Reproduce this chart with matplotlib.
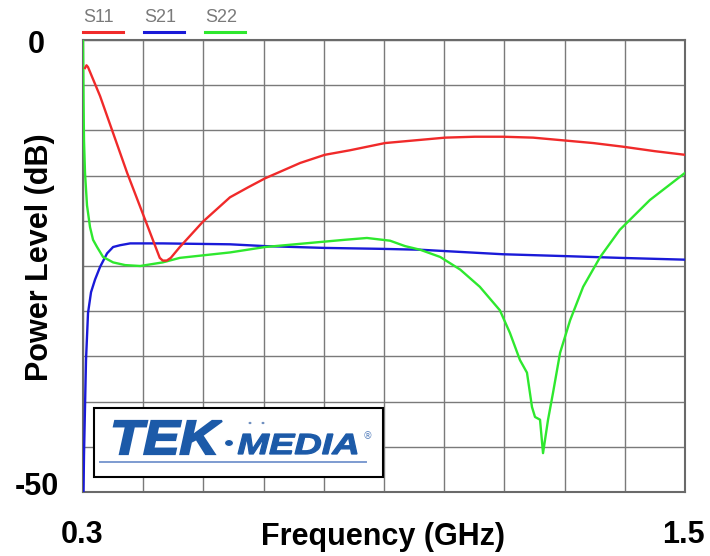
import matplotlib
matplotlib.use('Agg')
import matplotlib.pyplot as plt
from matplotlib.patches import Rectangle, Circle, PathPatch
from matplotlib.lines import Line2D
from matplotlib.textpath import TextPath
from matplotlib.font_manager import FontProperties
from matplotlib.transforms import Affine2D, IdentityTransform

# frequency sweep 0.3 - 1.5 GHz, levels in dB
s11_f = [0.304, 0.307, 0.310, 0.334, 0.388, 0.453, 0.459, 0.467, 0.475, 0.493, 0.539,
         0.563, 0.593, 0.629, 0.663, 0.733, 0.782, 0.832, 0.902, 0.962, 1.022, 1.081,
         1.137, 1.197, 1.257, 1.317, 1.376, 1.440, 1.500]
s11_db = [-3.1, -2.8, -3.0, -6.2, -14.7, -24.1, -24.4, -24.4, -24.1, -22.9, -20.1,
          -18.9, -17.4, -16.3, -15.3, -13.6, -12.7, -12.2, -11.4, -11.1, -10.8, -10.7,
          -10.7, -10.8, -11.1, -11.4, -11.8, -12.3, -12.7]

s21_f = [0.301, 0.302, 0.304, 0.306, 0.310, 0.316, 0.324, 0.334, 0.348, 0.360, 0.374,
         0.394, 0.459, 0.593, 0.663, 0.782, 0.892, 0.972, 1.137, 1.257, 1.370, 1.500]
s21_db = [-50.0, -45.9, -40.6, -35.4, -30.2, -27.9, -26.5, -25.1, -23.6, -22.9, -22.7,
          -22.5, -22.5, -22.6, -22.8, -23.0, -23.1, -23.2, -23.7, -23.9, -24.1, -24.3]

s22_f = [0.300, 0.301, 0.302, 0.304, 0.308, 0.314, 0.320, 0.328, 0.340, 0.360, 0.384,
         0.414, 0.459, 0.493, 0.593, 0.663, 0.782, 0.822, 0.866, 0.912, 0.942, 0.972,
         1.012, 1.052, 1.091, 1.131, 1.151, 1.171, 1.185, 1.195, 1.201, 1.211, 1.217,
         1.227, 1.237, 1.251, 1.271, 1.297, 1.331, 1.370, 1.430, 1.500]
s22_db = [0.0, -6.6, -11.1, -14.7, -18.3, -20.7, -22.1, -22.9, -24.0, -24.6, -24.9,
          -25.0, -24.6, -24.1, -23.5, -22.9, -22.3, -22.1, -21.9, -22.2, -22.8, -23.2,
          -24.0, -25.4, -27.3, -29.9, -32.4, -35.4, -36.8, -40.6, -41.7, -42.0, -45.7,
          -42.0, -39.0, -34.6, -31.0, -27.3, -24.0, -21.0, -17.7, -14.7]

trace_names = ['S11', 'S21', 'S22']
trace_colors = ['#f02a2a', '#1a1ad8', '#2ee82e']

W, H = 710, 556
fig = plt.figure(figsize=(W / 100, H / 100), dpi=100)
ax = fig.add_axes([83 / W, 1 - 492 / H, 602 / W, 452 / H])


def px(x, y):
    return x / W, 1 - y / H


ax.plot(s21_f, s21_db, color=trace_colors[1], lw=1.7, zorder=3)
ax.plot(s22_f, s22_db, color=trace_colors[2], lw=1.7, zorder=4)
ax.plot(s11_f, s11_db, color=trace_colors[0], lw=1.7, zorder=5)

ax.set_xlim(0.3, 1.5)
ax.set_ylim(-50, 0)
ax.set_xticks([0.3 + 0.12 * i for i in range(11)])
ax.set_yticks([-5 * i for i in range(11)])
ax.tick_params(length=0, labelbottom=False, labelleft=False)
ax.grid(True, color='#7a7a7a', lw=1.0)
ax.set_axisbelow(True)
for sp in ax.spines.values():
    sp.set_color('#6a6a6a')
    sp.set_linewidth(1.5)

lab = dict(fontfamily='Liberation Sans', fontweight='bold', fontsize=22, color='black')
fig.text(*px(36, 45), '0', ha='center', va='center', **lab)
fig.text(*px(37, 487), '-50', ha='center', va='center', **lab)
fig.text(*px(82, 535), '0.3', ha='center', va='center', **lab)
fig.text(*px(683, 535), '1.5', ha='center', va='center', **lab)
fig.text(*px(383, 537), 'Frequency (GHz)', ha='center', va='center', **lab)
fig.text(*px(40, 257), 'Power Level (dB)', ha='center', va='center', rotation=90, **lab)

# trace legend across the top
for i, (name, c) in enumerate(zip(trace_names, trace_colors)):
    x0 = 83 + 61 * i
    fig.text(*px(x0, 17), name, ha='left', va='center', fontsize=13,
             fontfamily='Liberation Sans', color='#7a7a7a')
    fig.add_artist(Line2D([x0 / W, (x0 + 40) / W], [1 - 32 / H] * 2, color=c, lw=2.2))

# logo box
fig.add_artist(Rectangle(px(94, 477), 289 / W, 69 / H, facecolor='white',
                         edgecolor='black', lw=1.5, zorder=6))
logo_blue = '#1c5aa8'
logo_font = FontProperties(family='Liberation Sans', weight='bold', style='italic')


def logo_word(s, x0, y0, x1, y1, weight):
    # stretch the glyph outlines to fill a pixel box (top-left origin)
    tp = TextPath((0, 0), s, size=10, prop=logo_font)
    ext = tp.get_extents()
    tr = (Affine2D().translate(-ext.x0, -ext.y0)
          .scale((x1 - x0) / ext.width, (y1 - y0) / ext.height)
          .translate(x0, H - y1))
    fig.add_artist(PathPatch(tr.transform_path(tp), facecolor=logo_blue, edgecolor=logo_blue,
                             lw=weight, transform=IdentityTransform(), zorder=7))


logo_word('TEK', 114, 421, 222, 454, 1.6)
logo_word('MEDIA', 238, 434, 357, 454, 0.9)
fig.text(*px(367, 436), '®', ha='center', va='center', fontsize=7,
         fontfamily='DejaVu Sans', color='#5f86c0', zorder=7)
fig.add_artist(Circle(px(229, 443), 4.5 / W, facecolor=logo_blue, edgecolor='white',
                      lw=0.8, zorder=7, transform=fig.transFigure))
for dx in (250, 263):
    fig.add_artist(Circle(px(dx, 423), 1.5 / W, facecolor='#6f8fc0', edgecolor='none',
                          zorder=7, transform=fig.transFigure))
fig.add_artist(Line2D([100 / W, 366 / W], [1 - 462 / H] * 2, color='#7d9bd0',
                      lw=1.4, zorder=7))

fig.savefig('out.png', dpi=100)
